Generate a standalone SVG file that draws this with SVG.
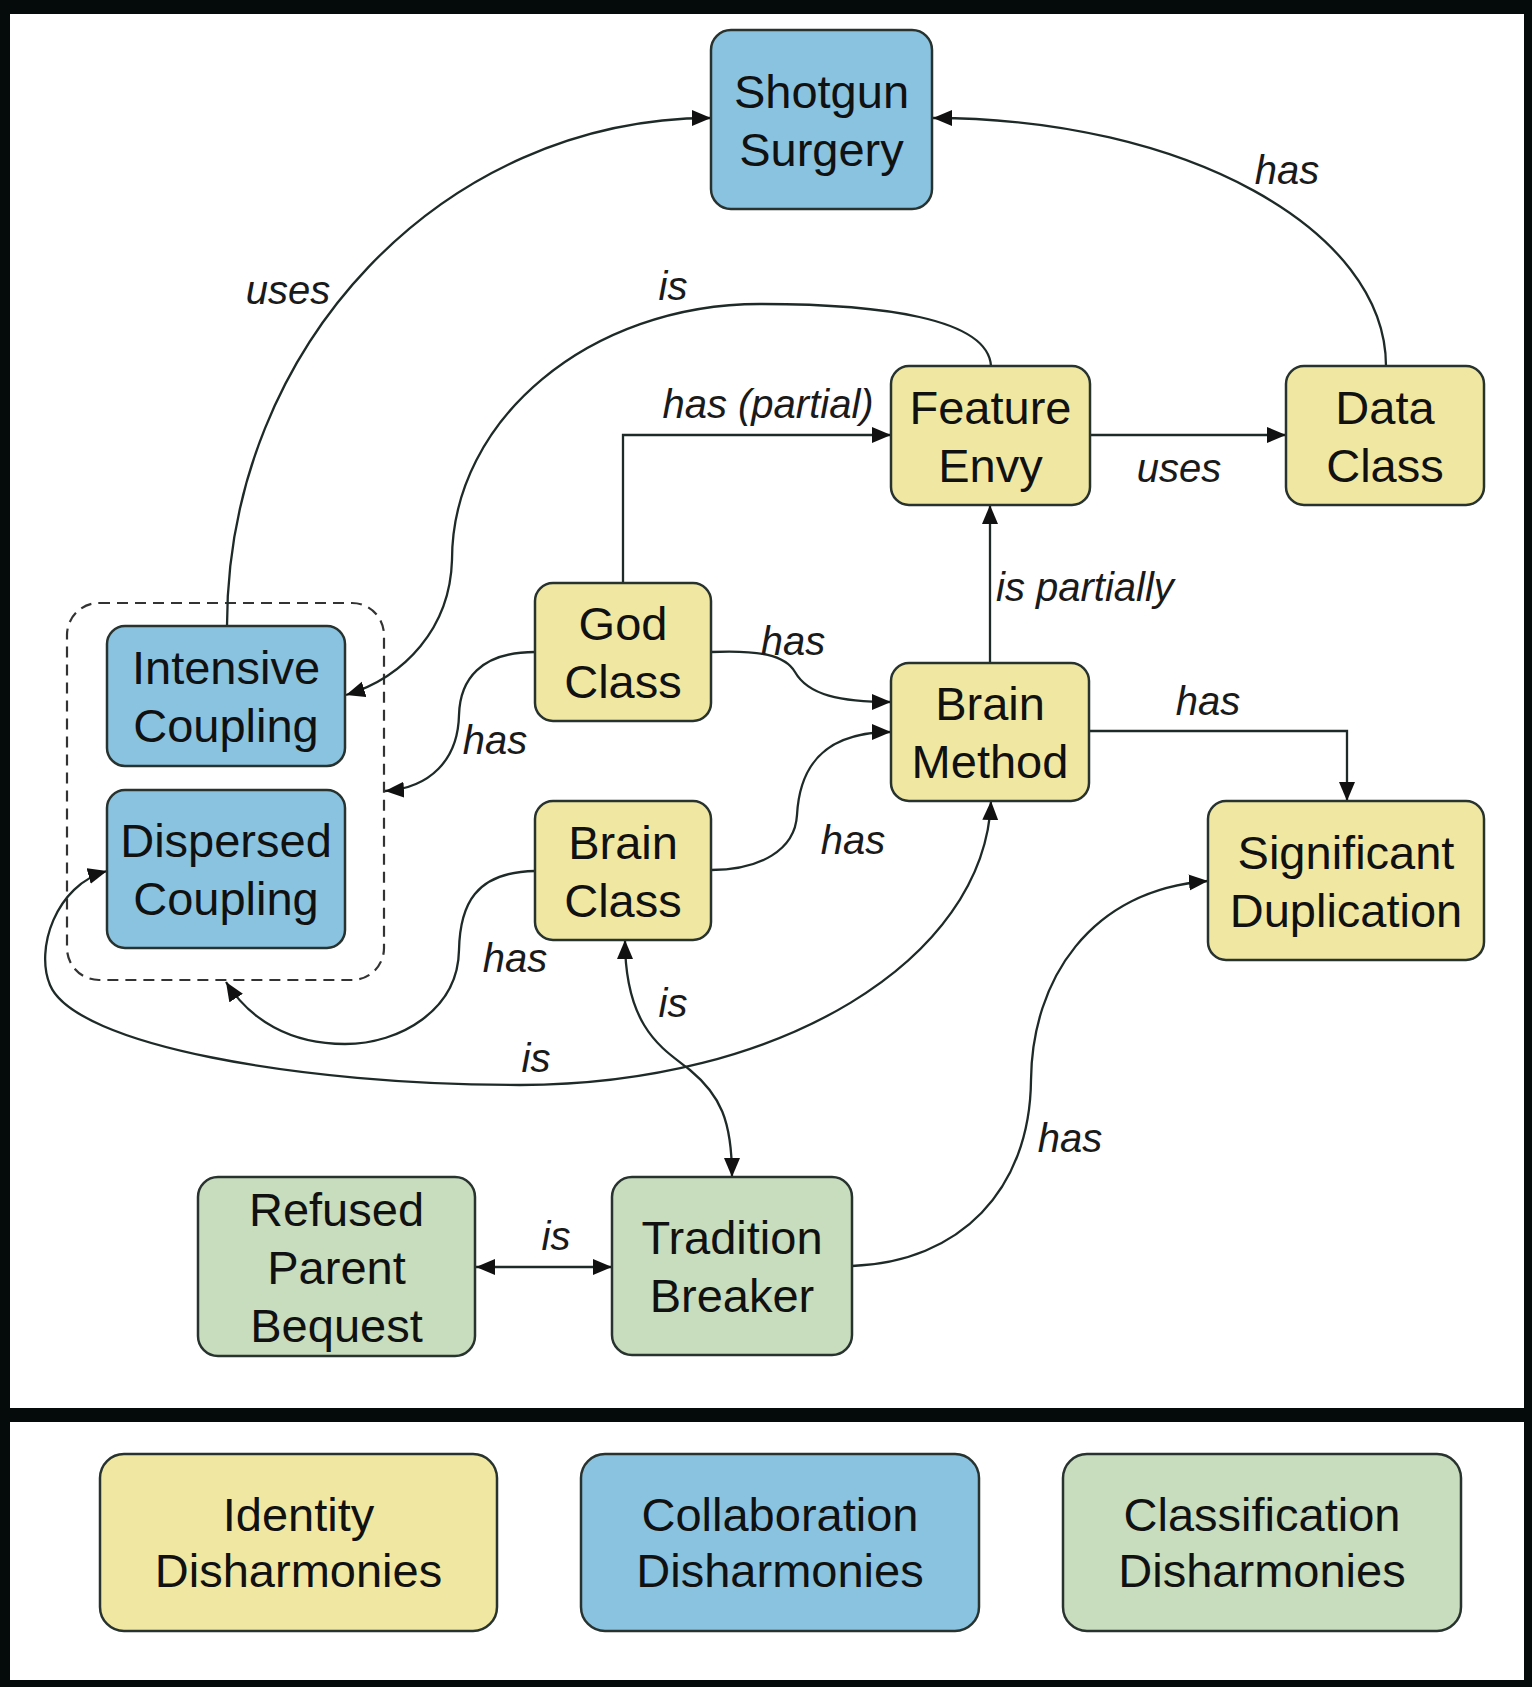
<svg xmlns="http://www.w3.org/2000/svg" width="1532" height="1687" viewBox="0 0 1532 1687">
  <style>
    .box { stroke: #28332f; stroke-width: 2.5; }
    .identity { fill: #f0e8a2; }
    .collab { fill: #89c3e0; }
    .classif { fill: #c8dcbe; }
    .name { font-family: Arial, "Liberation Sans", Helvetica, sans-serif; font-size: 47px; fill: #111; text-anchor: middle; }
    .lbl { font-family: Arial, "Liberation Sans", Helvetica, sans-serif; font-size: 40px; font-style: italic; fill: #1a1a1a; text-anchor: middle; }
    .lbl.left { text-anchor: start; }
    .edge { fill: none; stroke: #1e2a28; stroke-width: 2.3; }
    .one { marker-end: url(#tip); }
    .two { marker-start: url(#tip); marker-end: url(#tip); }
    .group { fill: none; stroke: #333; stroke-width: 2.2; stroke-dasharray: 11 7; }
  </style>
  <defs>
    <marker id="tip" markerUnits="userSpaceOnUse" markerWidth="21" markerHeight="17" refX="19" refY="8" orient="auto-start-reverse">
      <path d="M0,0 L19,8 L0,16 z" fill="#111"/>
    </marker>
  </defs>

  <!-- frame: black border with two white panels -->
  <rect x="0" y="0" width="1532" height="1687" fill="#050a0a"/>
  <rect x="10" y="14" width="1514" height="1394" fill="#fff"/>
  <rect x="10" y="1422" width="1514" height="258" fill="#fff"/>

  <!-- dashed grouping around the coupling smells -->
  <rect id="coupling-group" class="group" x="67" y="603" width="317" height="377" rx="32"/>

  <g id="connectors">
    <path class="edge one" d="M227,626 C227,345 444,118 711,118"/>
    <path class="edge one" d="M1386,366 C1386,229 1184,118 933,118"/>
    <path class="edge one" d="M991,366 C988,318 880,304 760,304 C590,304 452,419 452,560 C450,628 405,677 346,695"/>
    <path class="edge one" d="M623,583 L623,435 L891,435"/>
    <path class="edge one" d="M1090,435 L1286,435"/>
    <path class="edge one" d="M990,663 L990,505"/>
    <path class="edge one" d="M711,652 C760,650 785,655 795,672 C808,695 840,702 891,702"/>
    <path class="edge one" d="M711,870 C760,870 795,850 797,815 C800,760 830,732 891,732"/>
    <path class="edge one" d="M535,652 C480,652 460,680 459,715 C458,760 430,788 385,791"/>
    <path class="edge one" d="M535,871 C475,872 460,905 459,950 C458,1010 400,1044 345,1044 C290,1044 250,1020 226,982"/>
    <path class="edge two" d="M991,801 C985,960 780,1085 520,1085 C300,1085 75,1045 50,985 C35,950 55,885 107,871"/>
    <path class="edge two" d="M625,940 C625,1030 665,1050 690,1070 C720,1095 732,1120 732,1177"/>
    <path class="edge two" d="M476,1267 L612,1267"/>
    <path class="edge one" d="M852,1266 C960,1262 1030,1190 1031,1080 C1032,980 1090,890 1208,881"/>
    <path class="edge one" d="M1089,731 L1347,731 L1347,801"/>
  </g>

  <g id="edge-labels">
    <text class="lbl" x="288" y="304">uses</text>
    <text class="lbl" x="1287" y="184">has</text>
    <text class="lbl" x="673" y="300">is</text>
    <text class="lbl" x="768" y="418">has (partial)</text>
    <text class="lbl" x="1179" y="482">uses</text>
    <text class="lbl left" x="996" y="601">is partially</text>
    <text class="lbl" x="793" y="655">has</text>
    <text class="lbl" x="1208" y="715">has</text>
    <text class="lbl" x="495" y="754">has</text>
    <text class="lbl" x="853" y="854">has</text>
    <text class="lbl" x="515" y="972">has</text>
    <text class="lbl" x="673" y="1017">is</text>
    <text class="lbl" x="536" y="1072">is</text>
    <text class="lbl" x="1070" y="1152">has</text>
    <text class="lbl" x="556" y="1250">is</text>
  </g>

  <g id="shotgun-surgery">
    <rect class="box collab" x="711" y="30" width="221" height="179" rx="20"/>
    <text class="name" x="821.5" y="107.5">Shotgun</text>
    <text class="name" x="821.5" y="165.5">Surgery</text>
  </g>
  <g id="feature-envy">
    <rect class="box identity" x="891" y="366" width="199" height="139" rx="18"/>
    <text class="name" x="990.5" y="423.5">Feature</text>
    <text class="name" x="990.5" y="481.5">Envy</text>
  </g>
  <g id="data-class">
    <rect class="box identity" x="1286" y="366" width="198" height="139" rx="18"/>
    <text class="name" x="1385" y="423.5">Data</text>
    <text class="name" x="1385" y="481.5">Class</text>
  </g>
  <g id="god-class">
    <rect class="box identity" x="535" y="583" width="176" height="138" rx="18"/>
    <text class="name" x="623" y="640">God</text>
    <text class="name" x="623" y="698">Class</text>
  </g>
  <g id="brain-method">
    <rect class="box identity" x="891" y="663" width="198" height="138" rx="18"/>
    <text class="name" x="990" y="720">Brain</text>
    <text class="name" x="990" y="778">Method</text>
  </g>
  <g id="intensive-coupling">
    <rect class="box collab" x="107" y="626" width="238" height="140" rx="18"/>
    <text class="name" x="226" y="684">Intensive</text>
    <text class="name" x="226" y="742">Coupling</text>
  </g>
  <g id="dispersed-coupling">
    <rect class="box collab" x="107" y="790" width="238" height="158" rx="18"/>
    <text class="name" x="226" y="857">Dispersed</text>
    <text class="name" x="226" y="915">Coupling</text>
  </g>
  <g id="brain-class">
    <rect class="box identity" x="535" y="801" width="176" height="139" rx="18"/>
    <text class="name" x="623" y="858.5">Brain</text>
    <text class="name" x="623" y="916.5">Class</text>
  </g>
  <g id="significant-duplication">
    <rect class="box identity" x="1208" y="801" width="276" height="159" rx="18"/>
    <text class="name" x="1346" y="868.5">Significant</text>
    <text class="name" x="1346" y="926.5">Duplication</text>
  </g>
  <g id="refused-parent-bequest">
    <rect class="box classif" x="198" y="1177" width="277" height="179" rx="20"/>
    <text class="name" x="336.5" y="1226">Refused</text>
    <text class="name" x="336.5" y="1284">Parent</text>
    <text class="name" x="336.5" y="1342">Bequest</text>
  </g>
  <g id="tradition-breaker">
    <rect class="box classif" x="612" y="1177" width="240" height="178" rx="20"/>
    <text class="name" x="732" y="1254">Tradition</text>
    <text class="name" x="732" y="1312">Breaker</text>
  </g>

  <g id="legend-identity">
    <rect class="box identity" x="100" y="1454" width="397" height="177" rx="24"/>
    <text class="name" x="298.5" y="1531">Identity</text>
    <text class="name" x="298.5" y="1587">Disharmonies</text>
  </g>
  <g id="legend-collaboration">
    <rect class="box collab" x="581" y="1454" width="398" height="177" rx="24"/>
    <text class="name" x="780" y="1531">Collaboration</text>
    <text class="name" x="780" y="1587">Disharmonies</text>
  </g>
  <g id="legend-classification">
    <rect class="box classif" x="1063" y="1454" width="398" height="177" rx="24"/>
    <text class="name" x="1262" y="1531">Classification</text>
    <text class="name" x="1262" y="1587">Disharmonies</text>
  </g>
</svg>
